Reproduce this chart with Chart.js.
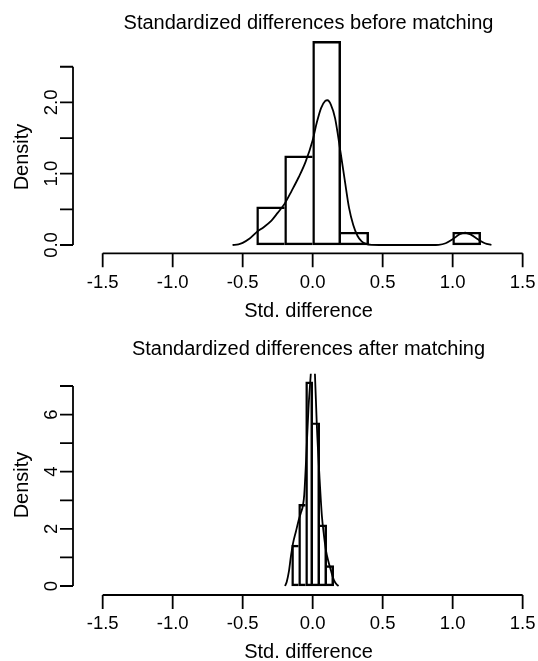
<!DOCTYPE html>
<html>
<head>
<meta charset="utf-8">
<script src="https://cdn.jsdelivr.net/npm/chart.js@4.4.0/dist/chart.umd.min.js"></script>
<style>
    html, body { margin: 0; padding: 0; background: #fff; }
    canvas { display: block; }
</style>
</head>
<body>
<canvas id="beforeChart" width="538" height="330"></canvas>
<canvas id="afterChart" width="538" height="331"></canvas>
<script>
// x axis (shared by both panels)
const xTicks = [-1.5, -1.0, -0.5, 0.0, 0.5, 1.0, 1.5];
const xTickLabels = ['-1.5', '-1.0', '-0.5', '0.0', '0.5', '1.0', '1.5'];

// before matching: histogram (bin width 0.2) + density curve
const beforeBinMids = [-0.3, -0.1, 0.1, 0.3, 0.5, 0.7, 0.9, 1.1];
const beforeDensity = [0.536, 1.25, 2.857, 0.179, 0, 0, 0, 0.179];
const beforeKdeX = [-0.572, -0.53, -0.5, -0.45, -0.4, -0.35, -0.3, -0.25, -0.2, -0.15, -0.1, -0.05, 0.0, 0.03, 0.06, 0.09, 0.106, 0.13, 0.16, 0.2, 0.23, 0.26, 0.29, 0.32, 0.35, 0.38, 0.42, 0.5, 0.85, 0.9, 0.95, 1.0, 1.05, 1.09, 1.13, 1.18, 1.23, 1.277];
const beforeKdeY = [0, 0.01, 0.03, 0.09, 0.18, 0.25, 0.33, 0.45, 0.58, 0.76, 0.95, 1.17, 1.47, 1.72, 1.92, 2.02, 2.03, 1.97, 1.78, 1.29, 0.9, 0.52, 0.28, 0.13, 0.05, 0.015, 0.002, 0, 0, 0.003, 0.025, 0.08, 0.15, 0.172, 0.145, 0.08, 0.025, 0];
const beforeYTicks = [0, 0.5, 1.0, 1.5, 2.0, 2.5];
const beforeYLabels = ['0.0', '', '1.0', '', '2.0', ''];

// after matching: histogram (bin width 0.05) + density curve
const afterBinMids = [-0.125, -0.075, -0.025, 0.025, 0.075, 0.125];
const afterDensity = [1.429, 2.857, 7.143, 5.714, 2.143, 0.714];
const afterKdeX = [-0.197, -0.185, -0.17, -0.155, -0.14, -0.12, -0.1, -0.085, -0.07, -0.06, -0.047, -0.03, -0.013, 0.002, 0.016, 0.03, 0.049, 0.066, 0.08, 0.095, 0.113, 0.13, 0.145, 0.16, 0.173, 0.185];
const afterKdeY = [0, 0.15, 0.5, 1.05, 1.5, 1.9, 2.3, 2.55, 2.8, 3.2, 4.4, 6.2, 7.45, 8.6, 7.45, 5.6, 3.8, 2.45, 1.8, 1.25, 0.85, 0.55, 0.3, 0.13, 0.05, 0];
const afterYTicks = [0, 1, 2, 3, 4, 5, 6, 7];
const afterYLabels = ['0', '', '2', '', '4', '', '6', ''];

const LINE_W = 1.8;
const TICK_FONT = '18.5px "Liberation Sans", Arial, sans-serif';
const LABEL_FONT = '20px "Liberation Sans", Arial, sans-serif';

// R style axes, drawn from the chart's own scales
const rAxes = {
    id: 'rAxes',
    afterDraw(chart, args, o) {
        const {ctx, chartArea, scales} = chart;
        const x = scales.x;
        const y = scales.y;
        const xb = chartArea.bottom;
        const ya = chartArea.left;
        ctx.save();
        ctx.strokeStyle = '#000';
        ctx.fillStyle = '#000';
        ctx.lineWidth = LINE_W;

        ctx.beginPath();
        ctx.moveTo(x.getPixelForValue(xTicks[0]), xb);
        ctx.lineTo(x.getPixelForValue(xTicks[xTicks.length - 1]), xb);
        xTicks.forEach(v => {
            const p = x.getPixelForValue(v);
            ctx.moveTo(p, xb);
            ctx.lineTo(p, xb + 14);
        });
        ctx.moveTo(ya, y.getPixelForValue(o.yTicks[0]));
        ctx.lineTo(ya, y.getPixelForValue(o.yTicks[o.yTicks.length - 1]));
        o.yTicks.forEach(v => {
            const p = y.getPixelForValue(v);
            ctx.moveTo(ya - 13, p);
            ctx.lineTo(ya, p);
        });
        ctx.stroke();

        ctx.textAlign = 'center';
        ctx.textBaseline = 'alphabetic';
        ctx.font = TICK_FONT;
        xTicks.forEach((v, i) => {
            ctx.fillText(xTickLabels[i], x.getPixelForValue(v), xb + 34.4);
        });
        o.yTicks.forEach((v, i) => {
            if (!o.yLabels[i]) return;
            ctx.save();
            ctx.translate(ya - 16.5, y.getPixelForValue(v));
            ctx.rotate(-Math.PI / 2);
            ctx.fillText(o.yLabels[i], 0, 0);
            ctx.restore();
        });

        ctx.font = LABEL_FONT;
        ctx.fillText(o.title, 308.5, o.titleBaseline);
        ctx.fillText('Std. difference', 308.5, xb + 63.4);
        ctx.save();
        ctx.translate(28.3, o.ylabCenter);
        ctx.rotate(-Math.PI / 2);
        ctx.fillText('Density', 0, 0);
        ctx.restore();

        ctx.restore();
    }
};

// shared bin edges are drawn once, by the taller of the two bars
function histBorder(c) {
    if (c.dataIndex === undefined) return LINE_W;
    const d = c.dataset.data;
    const i = c.dataIndex;
    const h = d[i].y;
    const drawLeft = i === 0 || d[i - 1].y <= h;
    const drawRight = i === d.length - 1 || d[i + 1].y < h;
    return {top: LINE_W, bottom: LINE_W, left: drawLeft ? LINE_W : 0, right: drawRight ? LINE_W : 0};
}

function initHistChart(canvasID, binMids, density, kdeX, kdeY, cfg) {
    const context = document.getElementById(canvasID).getContext('2d');
    return new Chart(context, {
        type: 'bar',
        data: {
            datasets: [
                {
                    type: 'line',
                    data: kdeX.map((v, i) => ({x: v, y: kdeY[i]})),
                    borderColor: '#000',
                    borderWidth: LINE_W,
                    pointRadius: 0,
                    fill: false,
                    cubicInterpolationMode: 'monotone'
                },
                {
                    type: 'bar',
                    data: binMids.map((v, i) => ({x: v, y: density[i]})),
                    backgroundColor: 'rgba(0,0,0,0)',
                    borderColor: '#000',
                    borderWidth: histBorder,
                    borderSkipped: false,
                    barPercentage: 1,
                    categoryPercentage: 1
                }
            ]
        },
        options: {
            responsive: false,
            animation: false,
            devicePixelRatio: 1,
            layout: {padding: cfg.padding},
            scales: {
                x: {
                    type: 'linear',
                    min: -1.712,
                    max: 1.574,
                    offset: false,
                    display: false,
                    // bin centres as ticks so the bars get the full bin width
                    afterBuildTicks: axis => { axis.ticks = binMids.map(v => ({value: v})); }
                },
                y: {
                    type: 'linear',
                    min: cfg.yMin,
                    max: cfg.yMax,
                    display: false
                }
            },
            plugins: {
                legend: {display: false},
                tooltip: {enabled: false},
                rAxes: cfg.axes
            }
        },
        plugins: [rAxes]
    });
}

initHistChart('beforeChart', beforeBinMids, beforeDensity, beforeKdeX, beforeKdeY, {
    padding: {left: 73, right: 5, top: 33, bottom: 76.7},
    yMin: -0.1164,
    yMax: 2.973,
    axes: {
        title: 'Standardized differences before matching',
        titleBaseline: 28.5,
        ylabCenter: 157,
        yTicks: beforeYTicks,
        yLabels: beforeYLabels
    }
});

initHistChart('afterChart', afterBinMids, afterDensity, afterKdeX, afterKdeY, {
    padding: {left: 73, right: 5, top: 43.8, bottom: 66},
    yMin: -0.315,
    yMax: 7.427,
    axes: {
        title: 'Standardized differences after matching',
        titleBaseline: 24.5,
        ylabCenter: 155,
        yTicks: afterYTicks,
        yLabels: afterYLabels
    }
});
</script>
</body>
</html>
